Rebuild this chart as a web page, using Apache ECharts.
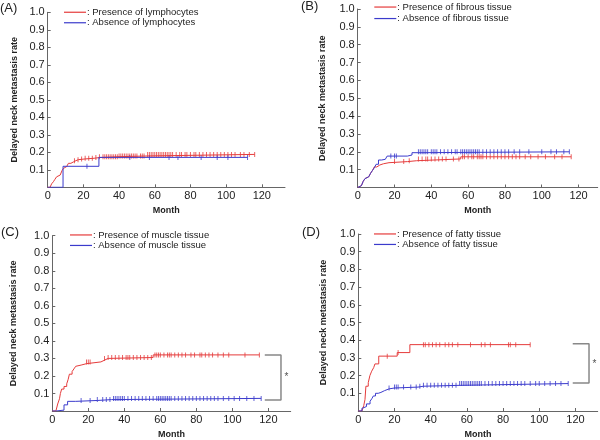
<!DOCTYPE html>
<html><head><meta charset="utf-8">
<script src="https://cdn.jsdelivr.net/npm/echarts@6/dist/echarts.min.js"></script>
<style>html,body{margin:0;padding:0;background:#fff}#c{width:600px;height:440px}</style>
</head><body><div id="c"></div>
<script>
// ---- tick labels / text ----
const xTicks = [0, 20, 40, 60, 80, 100, 120];
const yTicks = [0.1, 0.2, 0.3, 0.4, 0.5, 0.6, 0.7, 0.8, 0.9, 1.0];
const panelLabels = ['(A)', '(B)', '(C)', '(D)'];
const redNames = ['Presence of lymphocytes', 'Presence of fibrous tissue', 'Presence of muscle tissue', 'Presence of fatty tissue'];
const blueNames = ['Absence of lymphocytes', 'Absence of fibrous tissue', 'Absence of muscle tissue', 'Absence of fatty tissue'];
const xName = 'Month';
const yName = 'Delayed neck metastasis rate';

// ---- step curves [month, rate] ----
const aRed = [[0,0],[1.3,0.01],[2.2,0.02],[3.2,0.032],[4,0.045],[5,0.06],[6,0.07],[7,0.08],[8,0.095],[8.8,0.108],[9.7,0.118],[10.6,0.128],[11.6,0.137],[13,0.145],[14.4,0.152],[15.8,0.158],[17.2,0.162],[21,0.166],[26,0.17],[29,0.175],[40,0.179],[56,0.188],[116,0.188]];
const aBlue = [[0,0],[8.6,0.12],[28.7,0.171],[112,0.171]];
const bRed = [[0,0],[1,0.01],[2,0.02],[3,0.035],[4,0.05],[5,0.06],[6,0.07],[7,0.08],[8,0.095],[9,0.115],[10.4,0.126],[12,0.133],[14,0.139],[17,0.145],[27,0.15],[32,0.16],[56,0.172],[116,0.172]];
const bBlue = [[0,0],[1,0.01],[2,0.02],[3,0.035],[4,0.05],[5,0.06],[6,0.07],[7,0.08],[8,0.095],[9,0.11],[10,0.13],[11.3,0.154],[13,0.158],[15,0.163],[16,0.176],[27,0.182],[29.5,0.195],[33,0.2],[115,0.2]];
const cRed = [[0,0],[2,0.01],[3,0.04],[4,0.07],[4.5,0.1],[5.2,0.125],[6.5,0.14],[8,0.155],[8.8,0.18],[9.5,0.21],[11,0.225],[12,0.24],[13,0.255],[14,0.262],[16,0.27],[19,0.28],[27,0.29],[29,0.3],[31,0.305],[56,0.32],[115,0.32]];
const cBlue = [[0,0],[2,0.005],[6.5,0.035],[8.5,0.055],[13,0.06],[25,0.065],[33,0.072],[116,0.072]];
const dRed = [[0,0],[2,0.01],[3,0.03],[3.7,0.065],[4.2,0.14],[5.5,0.16],[6.4,0.2],[7.4,0.225],[8.5,0.245],[9.2,0.266],[11.3,0.31],[21.5,0.33],[28.5,0.375],[95,0.375]];
const dBlue = [[0,0],[2,0.015],[3,0.025],[4.5,0.04],[6.5,0.055],[7.5,0.07],[8.3,0.085],[9.5,0.1],[11,0.105],[12.5,0.115],[14.5,0.125],[17,0.13],[20,0.135],[33,0.14],[36,0.145],[56,0.155],[116,0.155]];

// ---- censor times (months) ----
const aRedCens = [15,17,19,21,23,25,27,29,31,32,33,34,35,36,37,38,39,40,41,42,43,44,45,46,47,48,49,50,52,53,54,56,57,58,59,60,61,62,63,64,65,66,67,68,69,70,72,74,75,77,78,80,82,83,85,87,89,91,93,95,97,99,101,103,105,108,110,113,116];
const aBlueCens = [22,46,57,68,73,86,95,101,112];
const bRedCens = [20,25,28,33,35,37,38,40,42,44,46,48,52,55,57,58,60,62,63,65,66,67,68,70,72,74,76,78,80,82,84,86,88,91,94,98,102,107,111,116];
const bBlueCens = [18,20,21,33,34,35,36,37,38,40,41,42,43,45,47,49,51,53,54,56,57,58,59,60,61,62,63,64,65,66,68,70,72,74,76,78,80,82,85,88,93,100,105,108,112,115];
const cRedCens = [19,20,21,29,31,33,35,37,39,41,42,43,45,47,49,51,53,55,57,58,59,60,62,64,65,66,68,70,72,74,77,79,82,83,85,87,89,92,95,98,107,115];
const cBlueCens = [16,21,25,28,30,32,34,35,36,37,38,39,40,42,44,46,48,50,52,54,56,58,59,60,61,62,63,64,65,66,68,70,72,74,76,78,80,82,84,86,88,90,92,95,98,101,104,108,112,116];
const dRedCens = [16,22,36,37,39,41,43,45,48,50,52,55,62,68,70,73,83,84,87,95];
const dBlueCens = [17,20,21,22,25,29,32,34,36,38,40,42,44,46,48,50,52,54,56,57,58,59,60,61,62,63,64,65,66,67,68,70,72,74,76,78,80,82,84,86,88,90,92,95,98,100,103,106,109,112,116];

// ---- significance brackets [month, rate] ----
const bracketC = [[118,0.32],[127,0.32],[127,0.0625],[118,0.0625]];
const bracketD = [[118.5,0.38],[127.5,0.38],[127.5,0.158],[118.5,0.158]];
const starC = [[130,0.19]];
const starD = [[130.5,0.265]];

const reds = [aRed, bRed, cRed, dRed];
const blues = [aBlue, bBlue, cBlue, dBlue];
const redCens = [aRedCens, bRedCens, cRedCens, dRedCens];
const blueCens = [aBlueCens, bBlueCens, cBlueCens, dBlueCens];

// ---- layout ----
const layout = [
  {left:47.7, top:12.3, width:237.3, height:175, max:133, yGap:29, legL:64, legT:7, legGap:0, lab:[0,2]},
  {left:357.7, top:9, width:240, height:178.5, max:130.4, yGap:30.5, legL:374.3, legT:1.8, legGap:1, lab:[301,0]},
  {left:52.3, top:235.7, width:238.4, height:176.3, max:132.4, yGap:34, legL:70, legT:229.7, legGap:0, lab:[1,226]},
  {left:358.3, top:234, width:239.4, height:177.7, max:132.3, yGap:30.5, legL:374, legT:228.7, legGap:0, lab:[302,226]}
];
const RED = '#e53b3b', BLUE = '#3b3bcc', AXIS = '#666', TXT = '#222';
const FONT = '"Liberation Sans", Arial, sans-serif';

function stepAt(data, t) {
  let y = data[0][1];
  for (const p of data) { if (p[0] <= t) y = p[1]; else break; }
  return y;
}

const grid = [], xAxis = [], yAxis = [], series = [], legend = [], title = [];
layout.forEach((L, i) => {
  grid.push({left:L.left, top:L.top, width:L.width, height:L.height});
  xAxis.push({
    type:'value', gridIndex:i, min:0, max:L.max,
    name:xName, nameLocation:'middle', nameGap:19,
    nameTextStyle:{fontFamily:FONT, fontSize:9, fontWeight:'bold', color:TXT},
    axisLine:{lineStyle:{color:AXIS, width:1}},
    axisTick:{inside:true, length:3, customValues:xTicks, lineStyle:{color:AXIS}},
    axisLabel:{customValues:xTicks, margin:3, fontFamily:FONT, fontSize:11, color:TXT},
    splitLine:{show:false}
  });
  yAxis.push({
    type:'value', gridIndex:i, min:0, max:1,
    name:yName, nameLocation:'middle', nameGap:L.yGap,
    nameTextStyle:{fontFamily:FONT, fontSize:9, fontWeight:'bold', color:TXT},
    axisLine:{show:true, lineStyle:{color:AXIS, width:1}},
    axisTick:{show:true, inside:true, length:3, customValues:yTicks, lineStyle:{color:AXIS}},
    axisLabel:{customValues:yTicks, margin:3, fontFamily:FONT, fontSize:11, color:TXT, formatter:v => v.toFixed(1)},
    splitLine:{show:false}
  });
  title.push({text:panelLabels[i], left:L.lab[0], top:L.lab[1], padding:0, textStyle:{fontFamily:FONT, fontSize:13, fontWeight:'normal', color:TXT}});
  legend.push({
    data:[redNames[i], blueNames[i]], orient:'vertical', left:L.legL, top:L.legT, padding:0,
    itemWidth:22, itemHeight:1.2, itemGap:L.legGap, icon:'rect',
    formatter:': {name}', selectedMode:false,
    textStyle:{fontFamily:FONT, fontSize:9.5, lineHeight:10.5, color:TXT, padding:[0,0,0,-4]}
  });
  series.push({type:'line', name:redNames[i], xAxisIndex:i, yAxisIndex:i, step:'end', data:reds[i], symbol:'none', lineStyle:{color:RED, width:1}, itemStyle:{color:RED}});
  series.push({type:'line', name:blueNames[i], xAxisIndex:i, yAxisIndex:i, step:'end', data:blues[i], symbol:'none', lineStyle:{color:BLUE, width:1}, itemStyle:{color:BLUE}});
  series.push({type:'scatter', name:'rc'+i, xAxisIndex:i, yAxisIndex:i, symbol:'rect', symbolSize:[1,5], itemStyle:{color:RED}, data:redCens[i].map(t => [t, stepAt(reds[i], t)])});
  series.push({type:'scatter', name:'bc'+i, xAxisIndex:i, yAxisIndex:i, symbol:'rect', symbolSize:[1,5], itemStyle:{color:BLUE}, data:blueCens[i].map(t => [t, stepAt(blues[i], t)])});
});
[[2, bracketC, starC], [3, bracketD, starD]].forEach(([i, br, st]) => {
  series.push({type:'line', name:'br'+i, xAxisIndex:i, yAxisIndex:i, data:br, symbol:'none', lineStyle:{color:'#888', width:1.5}, silent:true});
  series.push({type:'scatter', name:'st'+i, xAxisIndex:i, yAxisIndex:i, data:st, symbolSize:0, silent:true,
    label:{show:true, formatter:'*', position:'inside', fontFamily:FONT, fontSize:10, color:TXT}});
});

const chart = echarts.init(document.getElementById('c'), null, {renderer:'canvas'});
chart.setOption({animation:false, backgroundColor:'#fff', title, grid, xAxis, yAxis, legend, series});
</script></body></html>
